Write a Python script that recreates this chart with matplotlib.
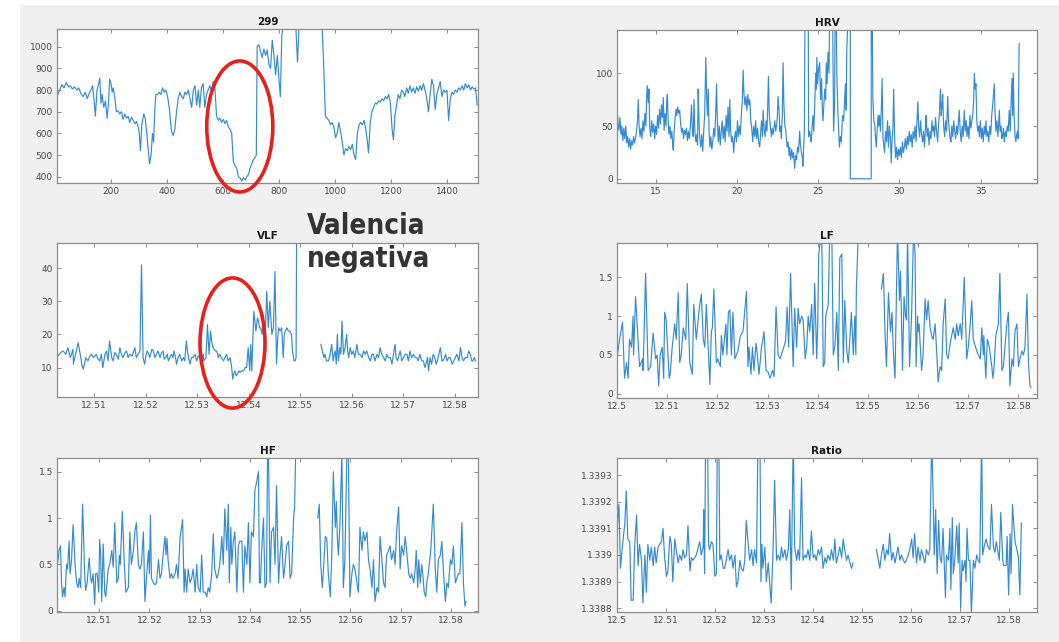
import numpy as np
import matplotlib
matplotlib.use('Agg')
import matplotlib.pyplot as plt
from matplotlib.patches import Ellipse, Rectangle
from matplotlib import font_manager

nan = np.nan

# ---------------- datos ----------------
# serie "299" (muestra, valor)
S299_X = [10, 18, 25, 32, 40, 48, 55, 62, 70, 78, 85, 92, 100, 108, 115, 122, 128, 134, 139, 144,
          150, 156, 160, 164, 168, 174, 180, 186, 191, 195, 200, 204, 208, 214, 219, 225, 231, 237, 243, 249,
          255, 261, 267, 273, 279, 285, 291, 297, 301, 305, 310, 317, 322, 328, 333, 338, 343, 348, 352, 356,
          360, 366, 372, 378, 384, 390, 396, 402, 408, 416, 422, 428, 434, 440, 446, 452, 458, 464, 470, 476,
          482, 488, 494, 500, 506, 512, 517, 523, 529, 535, 541, 547, 553, 559, 565, 571, 577, 583, 589, 595,
          601, 607, 613, 619, 625, 631, 637, 643, 649, 655, 661, 667, 673, 679, 685, 691, 697, 703, 709, 715,
          719, 722, 728, 734, 740, 746, 752, 758, 764, 770, 776, 782, 788, 794, 800, 805, 810, 815, 830, 850,
          860, 866, 872, 900, 930, 950, 955, 960, 966, 972, 978, 984, 990, 996, 1002, 1008, 1014, 1020, 1026, 1032,
          1038, 1044, 1050, 1056, 1062, 1068, 1074, 1080, 1086, 1092, 1098, 1104, 1110, 1116, 1120, 1126, 1132, 1138, 1144, 1150,
          1156, 1162, 1168, 1174, 1180, 1186, 1192, 1198, 1204, 1209, 1214, 1220, 1226, 1232, 1238, 1244, 1250, 1256, 1262, 1268,
          1274, 1280, 1286, 1292, 1298, 1304, 1310, 1316, 1322, 1328, 1334, 1340, 1346, 1352, 1358, 1364, 1370, 1376, 1382, 1388,
          1394, 1400, 1406, 1412, 1418, 1424, 1430, 1436, 1442, 1448, 1454, 1460, 1466, 1472, 1478, 1484, 1490, 1496, 1502, 1508]
S299_Y = [780, 805, 825, 810, 835, 815, 820, 805, 815, 800, 810, 785, 770, 790, 760, 785, 800, 820, 760, 680,
          800, 830, 855, 740, 780, 720, 750, 670, 740, 850, 830, 790, 810, 760, 700, 705, 690, 700, 665, 690,
          670, 680, 650, 675, 660, 645, 655, 630, 600, 520, 640, 690, 670, 600, 520, 460, 500, 600, 560, 700,
          780, 780, 790, 780, 810, 790, 800, 770, 720, 610, 590, 620, 700, 760, 790, 770, 760, 790, 780, 800,
          760, 720, 800, 820, 730, 800, 720, 810, 830, 720, 780, 800, 820, 790, 840, 810, 680, 660, 670, 650,
          665, 645, 660, 630, 620, 600, 470, 450, 440, 400, 395, 380, 395, 385, 400, 410, 440, 460, 480, 490,
          500, 1000, 1010, 980, 950, 990, 960, 985, 920, 900, 1030, 960, 870, 960, 850, 770, 1050, 1100, 1150, 1150,
          1100, 930, 1100, 1150, 1150, 1150, 1070, 900, 680, 670, 660, 640, 650, 630, 580, 600, 650, 610, 560, 500,
          530, 520, 540, 525, 550, 500, 480, 600, 640, 650, 640, 660, 620, 560, 510, 650, 700, 720, 740, 735,
          750, 745, 760, 750, 770, 760, 780, 740, 620, 570, 680, 730, 780, 760, 800, 790, 770, 810, 785, 820,
          790, 810, 785, 815, 795, 820, 800, 830, 800, 760, 700, 780, 850, 820, 710, 780, 810, 840, 770, 800,
          790, 800, 660, 760, 790, 780, 800, 790, 810, 800, 820, 800, 830, 810, 825, 800, 815, 805, 810, 730]

# HRV (tiempo, valor)
HRV = [(12.60, 70), (12.66, 52), (12.72, 46), (12.78, 58), (12.84, 42), (12.90, 50), (12.96, 36), (13.02, 48),
       (13.08, 38), (13.14, 50), (13.20, 34), (13.26, 40), (13.32, 30), (13.38, 38), (13.44, 28), (13.50, 36),
       (13.56, 32), (13.62, 40), (13.68, 34), (13.74, 38), (13.80, 45), (13.86, 55), (13.91, 75), (13.96, 50),
       (14.02, 40), (14.08, 48), (14.14, 38), (14.20, 55), (14.26, 45), (14.32, 62), (14.38, 50), (14.43, 80),
       (14.47, 88), (14.52, 72), (14.57, 85), (14.62, 48), (14.68, 40), (14.74, 55), (14.80, 44), (14.86, 52),
       (14.92, 38), (14.98, 50), (15.04, 42), (15.10, 60), (15.16, 48), (15.22, 66), (15.28, 52), (15.34, 70),
       (15.40, 58), (15.45, 77), (15.50, 46), (15.56, 62), (15.62, 50), (15.66, 72), (15.70, 80), (15.75, 55),
       (15.80, 42), (15.86, 50), (15.92, 38), (15.98, 45), (16.04, 30), (16.07, 27), (16.12, 45), (16.18, 58),
       (16.24, 66), (16.28, 60), (16.34, 68), (16.40, 62), (16.46, 65), (16.52, 52), (16.58, 44), (16.64, 48),
       (16.70, 38), (16.76, 46), (16.82, 42), (16.88, 48), (16.94, 36), (17.00, 45), (17.06, 38), (17.12, 50),
       (17.19, 70), (17.24, 45), (17.30, 40), (17.34, 75), (17.40, 44), (17.46, 35), (17.52, 42), (17.56, 32),
       (17.60, 85), (17.65, 55), (17.70, 38), (17.76, 30), (17.82, 42), (17.88, 26), (17.94, 45), (18.00, 60),
       (18.07, 115), (18.12, 80), (18.17, 60), (18.22, 85), (18.27, 45), (18.32, 30), (18.38, 40), (18.44, 28),
       (18.50, 35), (18.56, 48), (18.62, 40), (18.68, 62), (18.73, 90), (18.78, 55), (18.84, 35), (18.90, 50),
       (18.96, 32), (19.02, 45), (19.08, 55), (19.14, 38), (19.20, 50), (19.26, 35), (19.32, 60), (19.38, 45),
       (19.44, 68), (19.50, 40), (19.55, 75), (19.60, 45), (19.66, 35), (19.72, 40), (19.79, 25), (19.84, 38),
       (19.90, 45), (19.96, 35), (20.02, 55), (20.08, 40), (20.14, 50), (20.20, 42), (20.26, 60), (20.32, 75),
       (20.37, 103), (20.42, 80), (20.48, 70), (20.54, 78), (20.60, 65), (20.66, 80), (20.72, 70), (20.78, 75),
       (20.84, 55), (20.90, 48), (20.96, 35), (21.02, 50), (21.09, 40), (21.14, 55), (21.20, 38), (21.26, 48),
       (21.32, 35), (21.39, 30), (21.44, 42), (21.50, 55), (21.56, 40), (21.60, 65), (21.66, 48), (21.72, 40),
       (21.78, 55), (21.84, 45), (21.88, 70), (21.93, 97), (21.98, 60), (22.04, 50), (22.11, 40), (22.16, 48),
       (22.22, 42), (22.28, 50), (22.32, 55), (22.38, 45), (22.44, 52), (22.48, 60), (22.52, 78), (22.58, 65),
       (22.63, 45), (22.68, 50), (22.72, 38), (22.78, 60), (22.83, 110), (22.88, 70), (22.94, 50), (23.00, 45),
       (23.03, 38), (23.08, 30), (23.14, 35), (23.20, 22), (23.24, 30), (23.30, 18), (23.36, 28), (23.42, 20),
       (23.48, 25), (23.54, 10), (23.60, 22), (23.66, 18), (23.72, 30), (23.78, 25), (23.85, 45), (23.90, 32),
       (23.96, 25), (24.02, 20), (24.05, 12), (24.10, 30), (24.14, 45), (24.18, 160), (24.38, 160), (24.40, 40),
       (24.46, 45), (24.52, 40), (24.56, 35), (24.62, 50), (24.67, 60), (24.72, 45), (24.78, 70), (24.84, 100),
       (24.88, 85), (24.91, 115), (24.96, 90), (25.02, 105), (25.08, 110), (25.14, 75), (25.20, 95), (25.25, 65),
       (25.29, 55), (25.34, 70), (25.40, 85), (25.45, 75), (25.49, 110), (25.54, 90), (25.60, 120), (25.66, 100),
       (25.70, 160), (25.88, 160), (25.94, 45), (26.00, 70), (26.04, 160), (26.10, 160), (26.14, 100), (26.20, 65),
       (26.26, 45), (26.30, 30), (26.36, 40), (26.42, 35), (26.46, 50), (26.50, 60), (26.56, 55), (26.62, 75),
       (26.67, 90), (26.72, 65), (26.75, 120), (26.84, 160), (26.97, 160), (26.97, 0), (28.26, 0), (28.26, 160),
       (28.32, 160), (28.36, 75), (28.42, 55), (28.48, 50), (28.52, 40), (28.57, 30), (28.62, 45), (28.68, 60),
       (28.72, 50), (28.77, 60), (28.82, 45), (28.88, 65), (28.93, 95), (28.98, 40), (29.04, 30), (29.08, 25),
       (29.14, 45), (29.20, 35), (29.26, 55), (29.32, 30), (29.38, 50), (29.44, 40), (29.49, 15), (29.54, 35),
       (29.60, 50), (29.64, 85), (29.70, 40), (29.76, 20), (29.82, 30), (29.88, 18), (29.94, 28), (30.00, 22),
       (30.06, 30), (30.12, 20), (30.18, 35), (30.24, 25), (30.30, 30), (30.36, 38), (30.42, 28), (30.48, 40),
       (30.54, 32), (30.60, 45), (30.66, 35), (30.72, 42), (30.78, 30), (30.84, 45), (30.90, 38), (30.96, 50),
       (31.02, 35), (31.08, 55), (31.13, 73), (31.18, 50), (31.24, 40), (31.30, 55), (31.36, 42), (31.43, 35),
       (31.48, 45), (31.54, 30), (31.60, 50), (31.64, 60), (31.70, 40), (31.76, 48), (31.82, 32), (31.88, 45),
       (31.94, 38), (32.00, 55), (32.05, 45), (32.10, 50), (32.16, 40), (32.22, 58), (32.28, 45), (32.35, 35),
       (32.40, 50), (32.46, 62), (32.52, 85), (32.57, 60), (32.62, 70), (32.66, 80), (32.72, 50), (32.78, 40),
       (32.84, 55), (32.90, 45), (32.97, 78), (33.02, 55), (33.08, 45), (33.12, 38), (33.17, 35), (33.22, 50),
       (33.28, 40), (33.34, 55), (33.40, 45), (33.46, 38), (33.52, 50), (33.58, 42), (33.64, 55), (33.68, 65),
       (33.74, 45), (33.80, 35), (33.86, 50), (33.92, 40), (33.99, 65), (34.04, 45), (34.10, 55), (34.16, 40),
       (34.22, 50), (34.28, 38), (34.34, 60), (34.40, 48), (34.46, 55), (34.52, 62), (34.57, 75), (34.61, 100),
       (34.66, 85), (34.71, 90), (34.76, 55), (34.82, 45), (34.88, 50), (34.92, 40), (34.98, 55), (35.04, 38),
       (35.10, 48), (35.16, 35), (35.22, 50), (35.28, 42), (35.33, 55), (35.38, 40), (35.44, 45), (35.50, 35),
       (35.56, 50), (35.62, 42), (35.68, 60), (35.74, 70), (35.79, 80), (35.84, 90), (35.88, 65), (35.94, 45),
       (36.00, 55), (36.06, 40), (36.10, 50), (36.15, 65), (36.20, 45), (36.26, 50), (36.30, 38), (36.35, 40),
       (36.40, 48), (36.46, 35), (36.52, 45), (36.58, 40), (36.64, 50), (36.70, 45), (36.76, 65), (36.82, 45),
       (36.88, 75), (36.93, 95), (36.97, 60), (37.01, 100), (37.06, 60), (37.12, 40), (37.17, 35), (37.22, 42),
       (37.27, 45), (37.31, 38), (37.37, 128)]

# las bandas: t en unidades de 1e-4 desde 12.5
VLF = [(30, 13.5), (35, 14.5), (40, 15), (45, 14), (49, 16), (54, 13), (59, 15.5), (60, 11), (64, 14), (69, 17.5),
       (73, 14), (76, 11), (79, 9.5), (84, 13), (88, 12), (92, 13.5), (95, 14), (99, 13), (104, 14), (108, 12.5),
       (111, 12), (114, 14), (117, 10), (121, 14), (124, 15), (127, 12), (130, 18), (134, 13), (137, 12), (140, 14.5),
       (143, 14), (147, 12.5), (150, 16), (153, 14), (156, 13), (160, 14.5), (163, 15), (166, 13), (169, 14), (174, 13.5),
       (179, 16), (182, 13), (185, 14), (189, 15), (192, 41), (195, 13), (198, 11), (201, 14), (203, 15), (206, 14),
       (208, 13), (212, 15.5), (215, 15), (218, 13), (221, 14), (224, 15), (228, 13), (231, 14.5), (234, 15), (236, 12.5),
       (239, 13), (242, 14), (244, 12), (247, 13), (250, 14), (253, 13), (255, 15), (258, 13), (260, 11), (263, 13),
       (266, 14), (270, 12), (273, 13), (276, 12), (279, 18), (282, 14), (286, 11), (289, 13), (292, 13), (296, 14),
       (299, 12), (302, 13.5), (305, 13), (308, 12), (312, 14), (313, 12), (317, 13), (320, 23), (323, 14), (326, 21),
       (328, 18), (331, 16), (335, 15), (338, 15), (341, 13), (344, 14), (347, 13), (351, 12), (354, 13), (357, 14),
       (360, 12), (364, 13), (367, 10), (369, 6.5), (371, 8), (373, 9), (376, 7.5), (378, 8), (381, 9), (383, 8.5),
       (386, 9), (390, 9), (393, 10), (396, 10), (399, 16), (402, 9), (404, 17), (406, 9), (410, 27), (414, 21),
       (417, 25), (419, 24), (421, 22), (423, 22), (426, 20), (428, 26), (430, 22), (432, 19), (435, 33), (438, 22),
       (441, 30), (443, 25), (445, 20), (448, 22), (451, 39), (454, 11), (456, 18), (458, 22), (461, 21), (464, 22),
       (467, 13), (469, 20), (471, 21), (474, 22), (477, 21), (480, 21), (483, 20), (485, 15), (488, 12), (490, 12),
       (492, 13), (493, 50), (494, nan),
       (540, 17), (543, 15), (546, 13), (548, 14), (551, 12), (555, 12), (558, 14), (561, 17), (564, 12), (566, 14),
       (568, 15), (570, 11), (572, 20), (574, 12), (577, 16), (579, 14), (581, 24), (584, 14), (587, 16), (590, 20),
       (592, 15), (594, 13), (597, 16), (600, 14), (603, 15), (606, 13), (610, 17), (613, 14), (616, 14), (620, 13),
       (623, 15), (626, 14), (629, 15), (633, 13), (636, 12), (639, 14), (642, 14), (645, 12), (649, 14), (652, 13),
       (655, 16), (658, 14), (662, 13), (665, 12), (668, 14), (671, 13), (675, 13), (678, 11), (681, 14), (684, 17),
       (686, 13), (689, 12), (692, 14), (694, 15), (697, 12), (700, 13), (704, 14), (707, 14), (710, 12), (713, 15),
       (716, 13), (720, 14), (723, 13), (726, 13), (729, 12), (732, 14), (736, 12), (739, 12), (742, 10), (744, 11),
       (747, 13), (749, 9), (752, 13), (755, 11), (758, 14), (761, 13), (764, 11), (766, 12), (769, 14), (772, 16),
       (775, 12), (777, 12), (780, 13), (782, 14), (785, 12), (788, 13), (791, 13), (795, 11), (798, 12), (801, 13),
       (804, 14), (808, 12), (811, 16), (814, 13), (817, 12), (820, 13), (824, 13), (827, 15), (830, 14), (833, 12),
       (835, 12), (838, 13), (840, 12)]

LF = [(0, 0.45), (5, 0.7), (11, 0.92), (15, 0.2), (19, 0.4), (22, 0.2), (25, 0.7), (29, 0.6), (32, 1.0), (33, 0.5),
      (37, 1.25), (42, 0.7), (45, 0.35), (51, 0.45), (52, 0.3), (57, 1.55), (62, 0.3), (67, 0.35), (72, 0.78), (77, 0.45),
      (80, 0.5), (83, 0.1), (86, 0.5), (90, 0.6), (93, 0.2), (95, 1.05), (98, 0.95), (104, 0.2), (106, 0.25), (110, 0.6),
      (115, 0.9), (118, 0.7), (122, 1.3), (125, 0.4), (128, 0.5), (132, 0.85), (137, 0.7), (140, 1.42), (145, 0.4), (150, 0.25),
      (153, 1.15), (158, 0.7), (164, 1.1), (168, 1.28), (172, 0.7), (175, 0.6), (178, 1.15), (182, 0.55), (185, 0.12), (188, 0.8),
      (190, 0.85), (193, 1.35), (198, 0.4), (201, 0.45), (206, 0.35), (208, 0.75), (211, 0.5), (217, 0.9), (219, 0.5), (222, 1.05),
      (225, 1.08), (228, 0.5), (231, 1.05), (235, 0.45), (238, 0.5), (241, 0.55), (246, 0.75), (251, 0.8), (255, 1.1), (258, 1.32),
      (261, 0.35), (263, 0.6), (267, 0.25), (270, 0.6), (273, 0.3), (277, 0.65), (279, 0.55), (283, 0.25), (288, 0.6), (293, 0.8),
      (297, 0.3), (301, 0.28), (305, 0.2), (310, 0.3), (313, 0.22), (317, 1.12), (321, 0.5), (325, 0.45), (330, 0.55), (336, 0.68),
      (339, 1.12), (342, 0.6), (346, 1.55), (351, 0.35), (354, 1.1), (358, 0.6), (361, 1.1), (364, 0.9), (368, 1.0), (371, 0.95),
      (375, 0.45), (378, 0.6), (381, 1.0), (384, 0.8), (388, 1.15), (391, 0.5), (394, 1.42), (398, 0.45), (400, 0.9), (402, 1.8),
      (404, 1.9), (408, 2.1), (411, 0.35), (414, 0.4), (416, 1.0), (421, 1.15), (424, 2.1), (428, 2.1), (431, 0.5), (434, 0.6),
      (436, 0.8), (438, 1.05), (441, 0.3), (444, 1.75), (448, 1.8), (451, 0.4), (454, 1.2), (458, 0.55), (461, 0.4), (464, 0.7),
      (467, 1.05), (471, 0.5), (474, 1.0), (476, 0.5), (477, 1.35), (481, 2.1), (482, nan),
      (527, 1.35), (531, 1.55), (534, 0.8), (537, 0.35), (541, 1.3), (545, 0.8), (548, 1.05), (551, 0.5), (554, 0.2), (557, 1.35),
      (559, 2.1), (563, 1.2), (565, 1.58), (569, 0.3), (572, 1.25), (575, 1.0), (577, 0.95), (579, 2.1), (583, 0.35), (587, 1.0),
      (591, 2.1), (594, 1.8), (596, 0.35), (599, 1.0), (600, 0.8), (602, 0.9), (607, 0.3), (610, 0.5), (614, 1.22), (617, 0.95),
      (620, 1.2), (624, 0.85), (627, 0.75), (630, 0.7), (634, 0.9), (637, 0.55), (640, 0.15), (644, 0.35), (647, 0.3), (650, 0.9),
      (654, 1.22), (657, 0.5), (660, 0.45), (664, 0.65), (667, 0.75), (670, 0.85), (674, 0.7), (677, 0.9), (680, 0.75), (684, 0.9),
      (687, 0.7), (692, 1.5), (697, 0.45), (700, 0.6), (704, 0.9), (707, 1.2), (710, 0.7), (717, 0.55), (720, 0.5), (724, 0.45),
      (727, 0.85), (730, 0.5), (731, 0.75), (735, 0.2), (738, 0.7), (742, 0.6), (747, 0.35), (749, 0.2), (751, 0.3), (755, 0.75),
      (760, 0.9), (763, 1.55), (767, 0.3), (770, 0.35), (773, 0.6), (777, 0.9), (780, 1.05), (783, 0.1), (787, 0.45), (790, 0.35),
      (793, 0.8), (797, 0.9), (800, 0.35), (803, 0.45), (807, 0.55), (810, 0.5), (813, 0.6), (817, 1.28), (820, 0.4), (823, 0.1),
      (825, 0.08)]

HF = [(16, 0.45), (20, 0.65), (23, 0.7), (25, 0.3), (27, 0.15), (30, 0.25), (32, 0.15), (35, 0.5), (37, 0.45), (40, 0.75),
      (42, 0.4), (45, 0.55), (48, 0.93), (52, 0.5), (55, 0.3), (58, 0.25), (60, 0.35), (63, 0.25), (67, 1.15), (71, 0.4),
      (73, 0.22), (76, 0.3), (80, 0.57), (83, 0.35), (85, 0.3), (88, 0.4), (91, 0.07), (93, 0.4), (96, 0.4), (99, 0.2),
      (101, 0.77), (103, 0.6), (105, 0.1), (108, 0.72), (111, 0.2), (113, 0.15), (118, 0.45), (121, 0.5), (125, 0.65), (128, 0.47),
      (131, 0.95), (135, 0.3), (138, 0.35), (140, 0.6), (142, 0.5), (146, 1.07), (150, 0.5), (153, 0.2), (158, 0.25), (161, 0.85),
      (164, 0.5), (168, 0.65), (171, 0.85), (174, 0.95), (178, 0.5), (181, 0.45), (184, 0.5), (188, 0.85), (191, 0.1), (194, 0.35),
      (198, 0.65), (200, 0.4), (202, 1.03), (204, 0.35), (208, 0.3), (211, 0.28), (214, 0.3), (218, 0.55), (221, 0.35), (224, 0.4),
      (228, 0.65), (231, 0.8), (233, 0.6), (235, 0.78), (237, 0.55), (241, 0.35), (244, 0.4), (247, 0.35), (251, 0.4), (254, 0.5),
      (257, 0.35), (261, 0.8), (264, 0.9), (266, 0.98), (269, 0.2), (271, 0.45), (274, 0.2), (277, 0.45), (281, 0.3), (284, 0.35),
      (287, 0.45), (291, 0.2), (294, 0.5), (297, 0.25), (301, 0.2), (304, 0.6), (307, 0.2), (311, 0.2), (314, 0.15), (317, 0.25),
      (320, 0.2), (324, 0.4), (327, 0.83), (330, 0.45), (334, 0.35), (337, 0.4), (340, 0.5), (344, 0.8), (347, 0.5), (350, 1.1),
      (354, 0.65), (357, 1.15), (359, 0.3), (362, 0.9), (364, 0.5), (367, 0.75), (370, 0.85), (374, 0.2), (377, 0.7), (380, 0.75),
      (384, 0.75), (387, 0.2), (390, 0.7), (394, 0.5), (397, 0.95), (400, 0.3), (403, 0.85), (407, 0.8), (410, 1.3), (413, 1.38),
      (417, 1.5), (419, 0.3), (421, 0.3), (423, 0.6), (427, 1.0), (430, 0.25), (433, 0.3), (435, 1.7), (437, 1.7), (440, 0.3),
      (443, 0.85), (447, 0.9), (450, 0.5), (453, 1.35), (457, 0.3), (460, 0.6), (463, 0.8), (467, 0.35), (470, 0.5), (473, 0.7),
      (477, 0.75), (480, 0.35), (483, 0.4), (487, 1.0), (489, 1.12), (491, 1.7), (492, nan),
      (535, 1.0), (538, 1.15), (541, 0.5), (544, 0.25), (546, 0.4), (550, 0.8), (553, 0.78), (556, 0.4), (560, 0.15), (563, 0.6),
      (566, 1.5), (570, 0.9), (572, 1.18), (574, 0.8), (576, 0.6), (579, 0.9), (583, 1.7), (586, 0.25), (589, 0.55), (593, 1.7),
      (596, 1.7), (599, 0.15), (603, 0.4), (606, 0.5), (609, 0.45), (613, 0.3), (616, 0.2), (619, 0.9), (623, 0.65), (626, 0.85),
      (629, 0.75), (633, 0.85), (636, 0.55), (639, 0.45), (643, 0.25), (646, 0.55), (649, 0.1), (653, 0.25), (656, 0.2), (659, 0.8),
      (662, 0.6), (666, 0.3), (669, 0.25), (672, 0.6), (676, 0.65), (679, 0.7), (682, 0.55), (686, 0.65), (689, 0.5), (692, 0.85),
      (696, 1.12), (699, 0.45), (702, 0.7), (706, 0.6), (709, 0.8), (712, 0.65), (716, 0.4), (719, 0.35), (722, 0.4), (726, 0.3),
      (729, 0.45), (731, 0.65), (734, 0.25), (736, 0.55), (739, 0.3), (742, 0.5), (744, 0.4), (747, 0.2), (750, 0.15), (752, 0.3),
      (755, 0.4), (760, 0.65), (765, 1.15), (769, 0.45), (772, 0.2), (775, 0.55), (779, 0.6), (782, 0.75), (785, 0.45), (789, 0.1),
      (792, 0.3), (795, 0.25), (799, 0.55), (802, 0.5), (805, 0.7), (809, 0.3), (812, 0.35), (815, 0.4), (818, 0.4), (822, 0.95),
      (825, 0.3), (828, 0.05), (830, 0.1)]

RATIO = [(0, 1.33909), (4, 1.33919), (7, 1.33895), (11, 1.33903), (16, 1.33912), (19, 1.33924), (22, 1.33906), (26, 1.33905),
         (29, 1.33883), (33, 1.33883), (36, 1.33903), (40, 1.33915), (43, 1.33896), (46, 1.33904), (50, 1.33898), (53, 1.33882),
         (57, 1.33900), (60, 1.33886), (63, 1.33904), (67, 1.33898), (70, 1.33903), (74, 1.33896), (77, 1.33903), (80, 1.33897),
         (84, 1.33903), (87, 1.33904), (91, 1.33905), (94, 1.33910), (97, 1.33900), (101, 1.33892), (104, 1.33894), (108, 1.33907),
         (111, 1.33904), (114, 1.33890), (118, 1.33906), (121, 1.33902), (125, 1.33897), (128, 1.33900), (132, 1.33898), (135, 1.33902),
         (138, 1.33899), (142, 1.33900), (145, 1.33911), (149, 1.33894), (152, 1.33899), (155, 1.33898), (159, 1.33899), (162, 1.33900),
         (166, 1.33903), (169, 1.33905), (172, 1.33900), (176, 1.33903), (177, 1.33917), (179, 1.33893), (181, 1.33945), (185, 1.33945),
         (187, 1.33904), (189, 1.33902), (193, 1.33905), (196, 1.33904), (200, 1.33892), (203, 1.33893), (205, 1.33945), (208, 1.33945),
         (210, 1.33898), (213, 1.33900), (217, 1.33895), (220, 1.33895), (223, 1.33898), (227, 1.33902), (230, 1.33898), (234, 1.33900),
         (237, 1.33895), (241, 1.33900), (244, 1.33888), (247, 1.33890), (251, 1.33898), (254, 1.33895), (258, 1.33894), (261, 1.33898),
         (264, 1.33913), (268, 1.33904), (271, 1.33898), (275, 1.33902), (278, 1.33896), (281, 1.33902), (285, 1.33897), (288, 1.33945),
         (292, 1.33945), (294, 1.33890), (296, 1.33904), (298, 1.33895), (302, 1.33903), (305, 1.33890), (309, 1.33897), (312, 1.33889),
         (315, 1.33882), (319, 1.33903), (322, 1.33928), (326, 1.33898), (329, 1.33900), (333, 1.33898), (336, 1.33903), (339, 1.33899),
         (343, 1.33902), (346, 1.33898), (350, 1.33902), (353, 1.33917), (356, 1.33887), (360, 1.33945), (363, 1.33903), (367, 1.33898),
         (370, 1.33902), (373, 1.33898), (377, 1.33929), (380, 1.33898), (384, 1.33900), (387, 1.33899), (390, 1.33902), (394, 1.33898),
         (397, 1.33909), (401, 1.33899), (404, 1.33900), (407, 1.33898), (411, 1.33902), (414, 1.33900), (418, 1.33903), (421, 1.33895),
         (425, 1.33899), (428, 1.33897), (431, 1.33900), (435, 1.33898), (438, 1.33902), (442, 1.33898), (445, 1.33906), (448, 1.33897),
         (452, 1.33900), (455, 1.33903), (459, 1.33899), (462, 1.33906), (465, 1.33902), (469, 1.33898), (472, 1.33900), (476, 1.33897),
         (479, 1.33895), (482, 1.33897), (483, nan),
         (530, 1.33902), (534, 1.33898), (537, 1.33895), (540, 1.33900), (544, 1.33904), (547, 1.33898), (551, 1.33902), (554, 1.33900),
         (557, 1.33908), (561, 1.33898), (564, 1.33901), (568, 1.33897), (571, 1.33900), (574, 1.33903), (578, 1.33898), (581, 1.33900),
         (585, 1.33898), (588, 1.33897), (591, 1.33898), (595, 1.33900), (598, 1.33902), (602, 1.33906), (605, 1.33899), (608, 1.33908),
         (612, 1.33897), (615, 1.33903), (619, 1.33898), (622, 1.33902), (626, 1.33899), (629, 1.33897), (632, 1.33902), (636, 1.33900),
         (639, 1.33902), (643, 1.33945), (646, 1.33920), (648, 1.33900), (651, 1.33917), (654, 1.33893), (657, 1.33913), (660, 1.33899),
         (663, 1.33897), (666, 1.33910), (668, 1.33900), (671, 1.33884), (673, 1.33900), (677, 1.33898), (680, 1.33910), (682, 1.33887),
         (685, 1.33914), (687, 1.33893), (690, 1.33898), (694, 1.33911), (697, 1.33897), (699, 1.33912), (702, 1.33880), (705, 1.33898),
         (707, 1.33894), (711, 1.33898), (713, 1.33890), (715, 1.33910), (718, 1.33898), (721, 1.33898), (724, 1.33878), (728, 1.33898),
         (731, 1.33895), (735, 1.33900), (738, 1.33898), (741, 1.33897), (745, 1.33945), (747, 1.33900), (750, 1.33903), (754, 1.33906),
         (758, 1.33903), (762, 1.33902), (765, 1.33919), (769, 1.33903), (772, 1.33901), (775, 1.33905), (781, 1.33898), (784, 1.33916),
         (788, 1.33898), (790, 1.33896), (795, 1.33896), (797, 1.33907), (800, 1.33885), (803, 1.33908), (805, 1.33893), (808, 1.33919),
         (811, 1.33910), (814, 1.33904), (816, 1.33903), (820, 1.33899), (823, 1.33885), (826, 1.33912)]

# ticks
TICKS_299_X = [200, 400, 600, 800, 1000, 1200, 1400]
TICKS_299_Y = [400, 500, 600, 700, 800, 900, 1000]
TICKS_HRV_X = [15, 20, 25, 30, 35]
TICKS_HRV_Y = [0, 50, 100]
TICKS_BAND_X = [12.5, 12.51, 12.52, 12.53, 12.54, 12.55, 12.56, 12.57, 12.58]
LABELS_BAND_X = ['12.5', '12.51', '12.52', '12.53', '12.54', '12.55', '12.56', '12.57', '12.58']
TICKS_VLF_Y = [10, 20, 30, 40]
TICKS_PW_Y = [0, 0.5, 1, 1.5]
LABELS_PW_Y = ['0', '0.5', '1', '1.5']
TICKS_RATIO_Y = [1.3388, 1.3389, 1.339, 1.3391, 1.3392, 1.3393]
LABELS_RATIO_Y = ['1.3388', '1.3389', '1.339', '1.3391', '1.3392', '1.3393']

LINE = '#348bd3'
W, H = 1059, 642


def band_xy(pts):
    a = np.array(pts, dtype=float)
    return 12.5 + a[:, 0] * 1e-4, a[:, 1]


def matlab_axes(fig, px, title):
    # px = (izq, arriba, der, abajo) en pixeles
    l, t, r, b = px
    ax = fig.add_axes([l / W, 1 - b / H, (r - l) / W, (b - t) / H])
    ax.set_facecolor('white')
    ax.set_title(title, fontsize=7.5, fontweight='bold', pad=3, color='#1a1a1a')
    for s in ax.spines.values():
        s.set_color('#8c8c8c')
        s.set_linewidth(0.9)
    ax.tick_params(direction='in', length=3, width=0.7, colors='#8c8c8c', labelcolor='#4a4a4a',
                   labelsize=6.5, top=True, right=True, pad=3)
    return ax


fig = plt.figure(figsize=(W / 100, H / 100), dpi=100)
fig.patch.set_facecolor('white')
fig.add_artist(Rectangle((20 / W, 0), 1, 1 - 5 / H, transform=fig.transFigure,
                         facecolor='#f0f0f0', edgecolor='none', zorder=-10))

# ---- 299
ax1 = matlab_axes(fig, (57, 29, 478, 183), '299')
ax1.plot(S299_X, S299_Y, color=LINE, lw=0.85)
ax1.set_xlim(7, 1511)
ax1.set_ylim(371, 1082)
ax1.set_xticks(TICKS_299_X)
ax1.set_yticks(TICKS_299_Y)
ax1.add_patch(Ellipse((660, 632), 236, 605, fill=False, edgecolor='#e8201c', lw=2.6, clip_on=False, zorder=5))

# ---- HRV
ax2 = matlab_axes(fig, (617, 30, 1037, 183), 'HRV')
hx, hy = np.array(HRV, dtype=float).T
ax2.plot(hx, hy, color=LINE, lw=0.85)
ax2.set_xlim(12.6, 38.47)
ax2.set_ylim(-4, 141)
ax2.set_xticks(TICKS_HRV_X)
ax2.set_yticks(TICKS_HRV_Y)

# ---- VLF
ax3 = matlab_axes(fig, (57, 243, 478, 397), 'VLF')
vx, vy = band_xy(VLF)
ax3.plot(vx, vy, color=LINE, lw=0.85)
ax3.set_xlim(12.5028, 12.5845)
ax3.set_ylim(1.1, 47.6)
ax3.set_xticks(TICKS_BAND_X[1:])
ax3.set_xticklabels(LABELS_BAND_X[1:])
ax3.set_yticks(TICKS_VLF_Y)
ax3.add_patch(Ellipse((12.53686, 17.4), 0.01261, 39.3, fill=False, edgecolor='#e8201c', lw=2.6, clip_on=False, zorder=5))

# ---- LF
ax4 = matlab_axes(fig, (617, 243, 1037, 398), 'LF')
lx, ly = band_xy(LF)
ax4.plot(lx, ly, color=LINE, lw=0.85)
ax4.set_xlim(12.5, 12.5837)
ax4.set_ylim(-0.055, 1.942)
ax4.set_xticks(TICKS_BAND_X)
ax4.set_xticklabels(LABELS_BAND_X)
ax4.set_yticks(TICKS_PW_Y)
ax4.set_yticklabels(LABELS_PW_Y)

# ---- HF
ax5 = matlab_axes(fig, (57, 458, 478, 612), 'HF')
fx, fy = band_xy(HF)
ax5.plot(fx, fy, color=LINE, lw=0.85)
ax5.set_xlim(12.5016, 12.5854)
ax5.set_ylim(-0.014, 1.648)
ax5.set_xticks(TICKS_BAND_X[1:])
ax5.set_xticklabels(LABELS_BAND_X[1:])
ax5.set_yticks(TICKS_PW_Y)
ax5.set_yticklabels(LABELS_PW_Y)

# ---- Ratio
ax6 = matlab_axes(fig, (617, 458, 1037, 612), 'Ratio')
rx, ry = band_xy(RATIO)
ax6.plot(rx, ry, color=LINE, lw=0.85)
ax6.set_xlim(12.5, 12.5858)
ax6.set_ylim(1.338786, 1.3393638)
ax6.set_xticks(TICKS_BAND_X)
ax6.set_xticklabels(LABELS_BAND_X)
ax6.set_yticks(TICKS_RATIO_Y)
ax6.set_yticklabels(LABELS_RATIO_Y)

# texto anotado
names = {f.name for f in font_manager.fontManager.ttflist}
if 'Liberation Sans Narrow' in names:
    fam, fs = 'Liberation Sans Narrow', 25
else:
    fam, fs = 'DejaVu Sans', 20
fig.text(366 / W, 1 - 234 / H, 'Valencia', ha='center', va='baseline', fontsize=fs,
         fontweight='bold', family=fam, color='#333333', fontstretch='condensed')
fig.text(369 / W, 1 - 267 / H, 'negativa', ha='center', va='baseline', fontsize=fs,
         fontweight='bold', family=fam, color='#333333', fontstretch='condensed')

fig.savefig('out.png', dpi=100, facecolor=fig.get_facecolor())
